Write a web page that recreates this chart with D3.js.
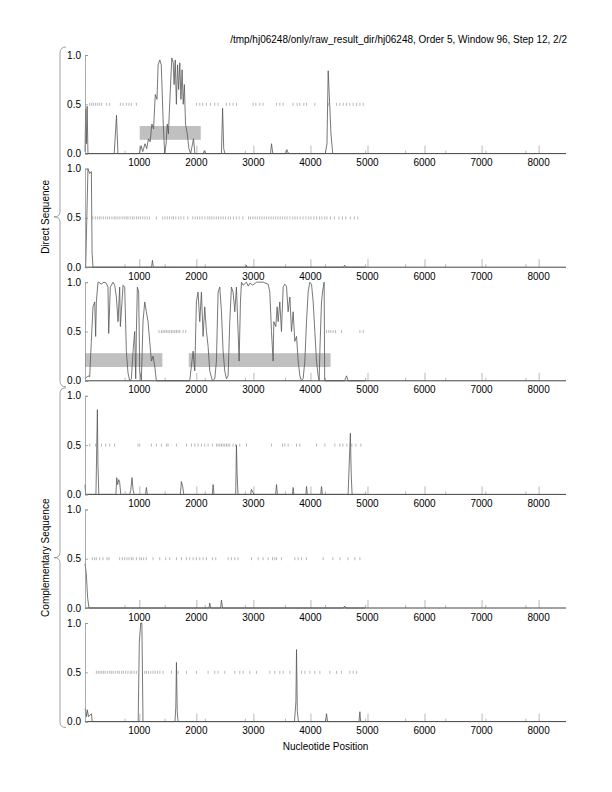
<!DOCTYPE html>
<html>
<head>
<meta charset="utf-8">
<script src="https://cdn.jsdelivr.net/npm/d3@7"></script>
<style>
  body { margin: 0; background: #fff; }
  text { font-family: "Liberation Sans", Arial, Helvetica, sans-serif; fill: #000; }
</style>
</head>
<body>
<svg id="plot"></svg>
<script>
// Chart data: [position, value] pairs per panel, rug positions at 0.5, shaded boxes
var titleText = "/tmp/hj06248/only/raw_result_dir/hj06248, Order 5, Window 96, Step 12, 2/2";
var xTicks = [1000, 2000, 3000, 4000, 5000, 6000, 7000, 8000];
var yTicks = [0, 0.5, 1];
var xDomain = [48, 8480];
var boxRange = [0.14, 0.28];

var line1 = [[48,0.02],[60,0.45],[72,0.1],[85,0.48],[100,0],[560,0],[600,0.39],[625,0],[1000,0],[1030,0.08],[1060,0.02],
  [1100,0.1],[1130,0.05],[1160,0.15],[1190,0.12],[1220,0.3],[1250,0.25],[1280,0.6],[1310,0.55],[1330,0.9],[1360,0.95],
  [1385,0.9],[1420,0.3],[1445,0],[1470,0.1],[1490,0.3],[1510,0.2],[1540,0.6],[1570,0.97],[1595,0.92],[1610,0.7],[1630,0.95],
  [1650,0.5],[1670,0.9],[1690,0.65],[1710,0.92],[1730,0.55],[1750,0.85],[1770,0.5],[1790,0.7],[1810,0.3],[1840,0.2],
  [1870,0.05],[1900,0],[1950,0.15],[1975,0],[2120,0],[2140,0.03],[2160,0],[2440,0],[2460,0.46],[2480,0.05],[2500,0],
  [3300,0],[3318,0.1],[3340,0],[3570,0],[3586,0.04],[3600,0.02],[3620,0],[4260,0],[4290,0.1],[4311,0.84],[4330,0.6],
  [4360,0.2],[4390,0],[4960,0]];
var line2 = [[48,0],[60,0],[100,1.0],[130,0.95],[160,0.97],[172,0.15],[188,0],[1215,0],[1230,0.07],[1245,0],[2870,0],
  [2879,0.02],[2890,0],[4580,0],[4600,0.02],[4620,0],[4960,0]];
var line3 = [[48,0.02],[100,0.05],[130,0.04],[159,0.4],[188,0.75],[218,0.8],[235,0.45],[247,0.8],[276,1.0],[294,1.0],
  [330,0.98],[380,1.0],[422,0.99],[451,0.95],[463,0.48],[492,0.95],[539,1.0],[568,0.97],[598,0.85],[627,0.6],[656,0.95],
  [668,0.55],[685,0.7],[715,0.97],[744,0.95],[773,0.3],[802,0.08],[832,0],[861,0.02],[890,0.3],[919,0.5],[937,0.02],
  [949,0.5],[966,0.95],[989,0.9],[1007,0.1],[1036,0],[1065,0.6],[1095,0.8],[1124,0.7],[1153,0.6],[1182,0.4],[1212,0.2],
  [1241,0.25],[1270,0.15],[1299,0],[1884,0],[1943,0.3],[1972,0.1],[2001,0.8],[2030,0.9],[2060,0.6],[2089,0.9],[2118,0.45],
  [2147,0.75],[2177,0.5],[2206,0.35],[2235,0.1],[2282,0],[2323,0.02],[2352,0.2],[2381,0.9],[2411,0.95],[2440,0.7],
  [2469,0.3],[2498,0.1],[2528,0.02],[2557,0.05],[2586,0.6],[2615,0.95],[2644,0.9],[2674,0.7],[2703,0.95],[2732,0.5],
  [2750,0.2],[2773,0.8],[2791,1.0],[2820,0.97],[2878,1.0],[2910,0.96],[2937,0.99],[2990,0.97],[3054,1.0],[3171,1.0],
  [3259,0.98],[3288,0.9],[3317,0.5],[3346,0.2],[3358,0.6],[3393,0.55],[3416,0.75],[3434,0.6],[3463,0.8],[3492,0.5],
  [3522,0.95],[3551,0.98],[3580,0.96],[3609,0.7],[3639,0.85],[3668,0.5],[3697,0.7],[3726,0.4],[3756,0.45],[3785,0.2],
  [3814,0.05],[3843,0],[3872,0.02],[3902,0.2],[3931,0.6],[3960,0.9],[3989,1.0],[4019,0.98],[4048,0.8],[4077,0.5],
  [4106,0.2],[4136,0.05],[4153,0],[4165,0.3],[4194,0.8],[4212,0.9],[4240,1.0],[4250,0],[4600,0],[4633,0.05],[4660,0],[4960,0]];
var line4 = [[48,0.1],[60,0],[240,0],[265,0.86],[275,0.3],[290,0],[590,0],[604,0.17],[620,0.1],[640,0.15],[656,0.12],
  [675,0],[830,0],[850,0.04],[872,0.17],[890,0.05],[910,0],[1110,0],[1124,0.07],[1140,0],[1720,0],[1738,0.13],[1760,0.08],
  [1780,0],[2280,0],[2294,0.1],[2310,0],[2690,0],[2703,0.5],[2715,0.2],[2730,0],[2950,0],[2966,0.05],[2990,0.02],[3010,0],
  [3390,0],[3405,0.1],[3420,0],[3685,0],[3697,0.07],[3710,0],[3920,0],[3931,0.08],[3945,0],[4180,0],[4194,0.08],[4210,0],
  [4660,0],[4700,0.62],[4715,0.2],[4730,0],[4960,0]];
var line5 = [[48,0.45],[70,0.35],[95,0.1],[118,0],[2220,0],[2235,0.05],[2250,0],[2425,0],[2440,0.08],[2460,0],[4580,0],
  [4600,0.02],[4620,0],[4960,0]];
var line6 = [[48,0.13],[62,0.1],[75,0.05],[88,0.12],[110,0.05],[160,0.08],[175,0],[980,0],[1000,0.8],[1025,1.0],[1045,1.0],
  [1065,0],[1625,0],[1640,0.15],[1651,0.6],[1665,0.1],[1680,0],[3720,0],[3745,0.2],[3756,0.73],[3770,0.1],[3790,0],
  [4265,0],[4282,0.08],[4300,0],[4850,0],[4867,0.1],[4880,0],[4960,0]];

var rug1 = [130,165,200,235,270,305,340,428,481,668,714,774,819,861,949,2002,2060,2112,2177,2247,2323,2381,2528,2586,2644,
  2704,2995,3042,3112,3170,3405,3463,3521,3696,3767,3814,3884,3932,4077,4311,4458,4516,4574,4633,4691,4749,4809,4867,4925];
var rug2 = [185,230,265,300,330,370,410,445,480,520,560,590,625,660,700,735,770,800,840,880,910,950,985,1020,1060,1100,
  1140,1180,1300,1410,1450,1490,1530,1570,1600,1640,1690,1730,1780,1850,1937,1980,2020,2060,2100,2150,2200,2235,2270,2310,
  2350,2390,2430,2470,2510,2560,2600,2650,2700,2750,2814,2914,2950,2990,3030,3070,3110,3150,3190,3230,3270,3310,3350,3390,
  3430,3470,3510,3550,3590,3640,3690,3730,3770,3820,3870,3920,3970,4010,4060,4110,4160,4200,4250,4288,4350,4420,4500,4560,
  4620,4700,4770,4830];
var rug3 = [1346,1388,1416,1446,1475,1504,1533,1563,1592,1621,1651,1680,1709,1767,1814,4282,4323,4358,4398,4440,4545,4867,4925];
var rug4 = [130,235,335,411,481,568,977,1007,1212,1300,1388,1475,1504,1651,1826,1914,1972,2030,2089,2147,2206,2282,2352,
  2381,2411,2440,2469,2498,2528,2557,2586,2644,2691,2761,2879,3318,3511,3551,3609,3756,3814,4107,4253,4428,4516,4568,4640,
  4726,4796,4884];
var rug5 = [177,218,247,305,363,434,469,656,703,744,784,820,861,890,949,1007,1036,1077,1124,1241,1358,1463,1533,1651,1738,
  1826,1884,1943,2001,2060,2118,2177,2282,2340,2557,2615,2674,2732,2966,3083,3171,3259,3335,3375,3405,3492,3726,3785,3843,
  3931,4223,4393,4516,4656,4779,4867];
var rug6 = [247,280,310,340,370,400,440,480,510,540,580,620,650,690,720,760,800,840,870,910,949,1095,1124,1160,1200,1240,
  1280,1320,1360,1416,1563,1680,1826,2001,2206,2323,2381,2498,2674,2761,2820,2937,3054,3288,3375,3463,3522,3639,3843,3902,
  3989,4077,4165,4340,4458,4545,4691,4749,4809];

var boxes1 = [[1007, 2077]];
var boxes2 = [];
var boxes3 = [[48, 1405], [1867, 4352]];
var boxes4 = [], boxes5 = [], boxes6 = [];

var panels = [
  {line: line1, rug: rug1, boxes: boxes1},
  {line: line2, rug: rug2, boxes: boxes2},
  {line: line3, rug: rug3, boxes: boxes3},
  {line: line4, rug: rug4, boxes: boxes4},
  {line: line5, rug: rug5, boxes: boxes5},
  {line: line6, rug: rug6, boxes: boxes6}
];
var groups = [{label: "Direct Sequence", from: 0, to: 2}, {label: "Complementary Sequence", from: 3, to: 5}];

// Layout
var W = 612, H = 792;
var left = 85, right = 566, firstTop = 55, step = 113.6, ph = 98.6;
var fs = '10px';

var svg = d3.select('#plot').attr('width', W).attr('height', H);

var x = d3.scaleLinear().domain(xDomain).range([left, right]);

// Title
svg.append('text')
  .attr('x', right + 1)
  .attr('y', 43)
  .attr('text-anchor', 'end')
  .style('font-size', fs)
  .text(titleText);

panels.forEach(function(p, i) {
  var top = firstTop + i * step;
  var y = d3.scaleLinear().domain([0, 1]).range([top + ph, top]);
  var g = svg.append('g');

  // shaded boxes
  g.selectAll('.box').data(p.boxes).enter().append('rect')
    .attr('x', d => x(d[0]))
    .attr('width', d => x(d[1]) - x(d[0]))
    .attr('y', y(boxRange[1]))
    .attr('height', y(boxRange[0]) - y(boxRange[1]))
    .attr('fill', '#c0c0c0');

  // rug at 0.5
  g.selectAll('.rug').data(p.rug).enter().append('line')
    .attr('x1', d => x(d)).attr('x2', d => x(d))
    .attr('y1', y(0.5) - 1.5).attr('y2', y(0.5) + 1.5)
    .attr('stroke', '#999')
    .attr('stroke-width', 0.7);

  // x axis with inward ticks
  var ax = g.append('g').attr('transform', 'translate(0,' + (top + ph) + ')');
  ax.call(d3.axisTop(x).tickValues(xTicks).tickSize(8).tickFormat(''))
    .call(a => a.select('.domain').remove())
    .selectAll('line').attr('stroke', '#999').attr('stroke-width', 0.7);
  var minor = d3.range(1, 12).map(k => xDomain[0] + k * (xDomain[1] - xDomain[0]) / 12);
  ax.selectAll('.minor').data(minor).enter().append('line')
    .attr('x1', d => x(d)).attr('x2', d => x(d))
    .attr('y1', 0).attr('y2', -3)
    .attr('stroke', '#999').attr('stroke-width', 0.7);
  ax.selectAll('.xl').data(xTicks).enter().append('text')
    .attr('x', d => x(d))
    .attr('y', 12.5)
    .attr('fill', '#000')
    .attr('text-anchor', 'middle')
    .style('font-size', fs)
    .text(d => d);

  // line
  g.append('path')
    .datum(p.line)
    .attr('fill', 'none')
    .attr('stroke', '#555')
    .attr('stroke-width', 0.8)
    .attr('d', d3.line().x(d => x(d[0])).y(d => y(d[1])));

  ax.append('line').attr('x1', left).attr('x2', right).attr('y1', 0).attr('y2', 0)
    .attr('stroke', '#444').attr('stroke-width', 1);

  // y axis
  var ay = g.append('g').attr('transform', 'translate(' + left + ',0)');
  ay.call(d3.axisRight(y).tickValues(yTicks).tickSize(3).tickFormat(''))
    .selectAll('line,path').attr('stroke', '#888').attr('stroke-width', 0.7);
  ay.selectAll('.yl').data(yTicks).enter().append('text')
    .attr('x', -4)
    .attr('y', d => y(d) + 3.5)
    .attr('fill', '#000')
    .attr('text-anchor', 'end')
    .style('font-size', fs)
    .text(d => d.toFixed(1));
});

// Braces and group labels
groups.forEach(function(gr) {
  var y0 = firstTop + gr.from * step - 8;
  var y1 = firstTop + gr.to * step + ph + 6;
  var mid = (y0 + y1) / 2;
  var bx = 60;
  var path = 'M' + (bx + 6) + ',' + y0 + ' Q' + bx + ',' + y0 + ' ' + bx + ',' + (y0 + 6) +
    ' L' + bx + ',' + (mid - 5) + ' Q' + bx + ',' + mid + ' ' + (bx - 6) + ',' + mid +
    ' Q' + bx + ',' + mid + ' ' + bx + ',' + (mid + 5) +
    ' L' + bx + ',' + (y1 - 6) + ' Q' + bx + ',' + y1 + ' ' + (bx + 6) + ',' + y1;
  svg.append('path').attr('d', path).attr('fill', 'none').attr('stroke', '#888').attr('stroke-width', 0.8);
  svg.append('text')
    .attr('transform', 'translate(49,' + mid + ') rotate(-90)')
    .attr('text-anchor', 'middle')
    .style('font-size', fs)
    .text(gr.label);
});

// x label
svg.append('text')
  .attr('x', (left + right) / 2)
  .attr('y', 750)
  .attr('text-anchor', 'middle')
  .style('font-size', fs)
  .text('Nucleotide Position');
</script>
</body>
</html>
